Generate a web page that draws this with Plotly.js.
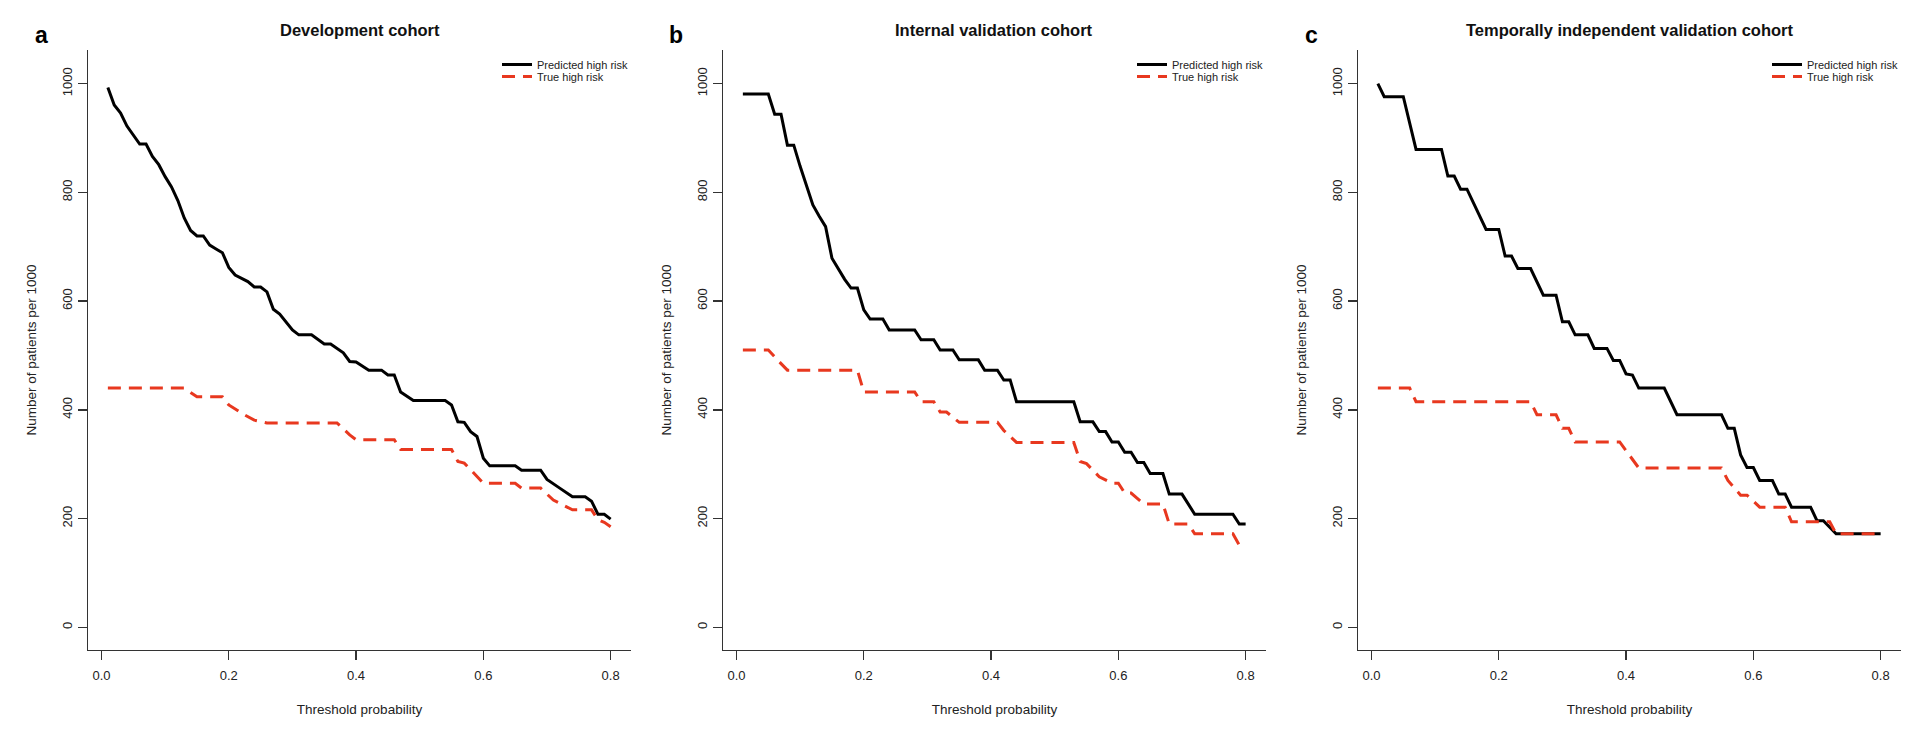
<!DOCTYPE html>
<html>
<head>
<meta charset="utf-8">
<script src="https://cdn.plot.ly/plotly-3.0.1.min.js"></script>
<style>
  body { margin: 0; background: #fff; }
  #chart { width: 1922px; height: 732px; }
</style>
</head>
<body>
<div id="chart"></div>
<script>
// Clinical impact curves (number per 1000)

// a: development cohort
const devPredX = [0.01, 0.02, 0.03, 0.04, 0.06, 0.07, 0.08, 0.09, 0.10, 0.11, 0.12, 0.13, 0.14, 0.15, 0.16, 0.17, 0.18, 0.19, 0.20, 0.21, 0.23, 0.24, 0.25, 0.26, 0.27, 0.28, 0.30, 0.31, 0.33, 0.35, 0.36, 0.38, 0.39, 0.40, 0.42, 0.44, 0.45, 0.46, 0.47, 0.49, 0.54, 0.55, 0.56, 0.57, 0.58, 0.59, 0.60, 0.61, 0.65, 0.66, 0.69, 0.70, 0.72, 0.74, 0.76, 0.77, 0.78, 0.79, 0.80];
const devPredY = [993, 961, 946, 922, 889, 889, 866, 851, 829, 810, 785, 753, 730, 720, 720, 703, 696, 689, 662, 648, 636, 626, 626, 617, 585, 576, 547, 538, 538, 521, 521, 505, 489, 488, 473, 473, 464, 464, 433, 417, 417, 409, 378, 377, 360, 351, 311, 297, 297, 289, 289, 272, 256, 240, 240, 232, 208, 208, 199];
const devTrueX = [0.01, 0.13, 0.15, 0.19, 0.20, 0.22, 0.24, 0.26, 0.37, 0.39, 0.40, 0.46, 0.47, 0.55, 0.56, 0.57, 0.58, 0.60, 0.65, 0.66, 0.69, 0.71, 0.73, 0.74, 0.77, 0.78, 0.79, 0.80];
const devTrueY = [440, 440, 424, 424, 409, 394, 381, 376, 376, 354, 345, 345, 327, 327, 305, 302, 290, 265, 265, 256, 256, 234, 222, 216, 216, 198, 193, 185];

// b: internal validation cohort
const intPredX = [0.01, 0.05, 0.06, 0.07, 0.08, 0.09, 0.10, 0.11, 0.12, 0.13, 0.14, 0.15, 0.17, 0.18, 0.19, 0.20, 0.21, 0.23, 0.24, 0.28, 0.29, 0.31, 0.32, 0.34, 0.35, 0.38, 0.39, 0.41, 0.42, 0.43, 0.44, 0.53, 0.54, 0.56, 0.57, 0.58, 0.59, 0.60, 0.61, 0.62, 0.63, 0.64, 0.65, 0.67, 0.68, 0.70, 0.72, 0.78, 0.79, 0.80];
const intPredY = [981, 981, 944, 944, 887, 887, 848, 812, 777, 756, 737, 679, 640, 624, 624, 584, 567, 567, 547, 547, 529, 529, 510, 510, 492, 492, 473, 473, 455, 455, 415, 415, 378, 378, 360, 360, 341, 341, 322, 322, 303, 303, 283, 283, 245, 245, 208, 208, 190, 190];
const intTrueX = [0.01, 0.05, 0.07, 0.08, 0.19, 0.20, 0.28, 0.29, 0.31, 0.32, 0.33, 0.35, 0.41, 0.42, 0.44, 0.53, 0.54, 0.55, 0.56, 0.57, 0.59, 0.60, 0.61, 0.62, 0.64, 0.67, 0.68, 0.71, 0.72, 0.78, 0.79, 0.80];
const intTrueY = [510, 510, 485, 473, 473, 433, 433, 415, 415, 396, 396, 377, 377, 362, 340, 340, 305, 301, 289, 277, 265, 265, 247, 247, 227, 227, 190, 190, 172, 172, 151, 151];

// c: temporally independent validation cohort
const tempPredX = [0.01, 0.02, 0.05, 0.07, 0.11, 0.12, 0.13, 0.14, 0.15, 0.18, 0.20, 0.21, 0.22, 0.23, 0.25, 0.27, 0.29, 0.30, 0.31, 0.32, 0.34, 0.35, 0.37, 0.38, 0.39, 0.40, 0.41, 0.42, 0.46, 0.48, 0.55, 0.56, 0.57, 0.58, 0.59, 0.60, 0.61, 0.63, 0.64, 0.65, 0.66, 0.69, 0.70, 0.71, 0.73, 0.80];
const tempPredY = [1000, 976, 976, 879, 879, 830, 830, 806, 806, 732, 732, 683, 683, 660, 660, 611, 611, 562, 562, 538, 538, 513, 513, 491, 491, 466, 464, 440, 440, 391, 391, 366, 366, 317, 294, 294, 270, 270, 245, 245, 221, 221, 196, 196, 172, 172];
const tempTrueX = [0.01, 0.06, 0.07, 0.25, 0.26, 0.29, 0.30, 0.31, 0.32, 0.39, 0.42, 0.55, 0.56, 0.58, 0.59, 0.61, 0.65, 0.66, 0.72, 0.73, 0.80];
const tempTrueY = [440, 440, 415, 415, 391, 391, 366, 366, 341, 341, 293, 293, 270, 243, 243, 221, 221, 194, 194, 172, 172];

const panelTitles = ['Development cohort', 'Internal validation cohort', 'Temporally independent validation cohort'];
const panelLetters = ['a', 'b', 'c'];
const seriesNames = ['Predicted high risk', 'True high risk'];
const xTitle = 'Threshold probability';
const yTitle = 'Number of patients per 1000';
const xTicks = [0, 0.2, 0.4, 0.6, 0.8];
const yTicks = [0, 200, 400, 600, 800, 1000];

const W = 1922, H = 732;
const FONT = 'Liberation Sans, Arial, Helvetica, sans-serif';
const RED = '#E8381F';

// pixel boxes of the three panels
const panelLeft = [88, 723, 1358];
const panelWidth = 543;
const plotTop = 50, plotBottom = 650;

const panels = [
  { predX: devPredX, predY: devPredY, trueX: devTrueX, trueY: devTrueY },
  { predX: intPredX, predY: intPredY, trueX: intTrueX, trueY: intTrueY },
  { predX: tempPredX, predY: tempPredY, trueX: tempTrueX, trueY: tempTrueY }
];

const traces = [];
const layout = {
  width: W, height: H,
  margin: { l: 0, r: 0, t: 0, b: 0 },
  paper_bgcolor: '#fff',
  plot_bgcolor: '#fff',
  font: { family: FONT, color: '#222' },
  showlegend: true,
  annotations: []
};

// one small legend per entry, so the two rows sit as close as in the figure
function legendBox(left, top) {
  return {
    x: left / W, y: 1 - top / H,
    xanchor: 'left', yanchor: 'top',
    bgcolor: 'rgba(0,0,0,0)',
    font: { size: 11, color: '#222' },
    itemclick: false, itemdoubleclick: false
  };
}

function paperText(text, px, py, size, extra) {
  return Object.assign({
    text: text,
    x: px / W, y: 1 - py / H,
    xref: 'paper', yref: 'paper',
    xanchor: 'center', yanchor: 'middle',
    showarrow: false,
    font: { size: size, color: '#222' }
  }, extra || {});
}

panels.forEach((p, i) => {
  const n = i === 0 ? '' : String(i + 1);
  const left = panelLeft[i];
  const legPred = 'legend' + (i === 0 ? '' : String(2 * i + 1));
  const legTrue = 'legend' + String(2 * i + 2);

  traces.push({
    x: p.predX, y: p.predY,
    xaxis: 'x' + n, yaxis: 'y' + n,
    type: 'scatter', mode: 'lines',
    line: { color: '#000', width: 3 },
    name: seriesNames[0],
    legend: legPred,
    hoverinfo: 'skip'
  });
  traces.push({
    x: p.trueX, y: p.trueY,
    xaxis: 'x' + n, yaxis: 'y' + n,
    type: 'scatter', mode: 'lines',
    line: { color: RED, width: 3, dash: '13px,8px' },
    name: seriesNames[1],
    legend: legTrue,
    hoverinfo: 'skip'
  });

  const common = {
    showgrid: false, zeroline: false,
    showline: true, linecolor: '#333', linewidth: 1.4,
    ticks: 'outside', ticklen: 9, tickwidth: 1.3, tickcolor: '#333',
    tickfont: { size: 13, color: '#222' },
    automargin: false,
    fixedrange: true
  };

  layout['xaxis' + n] = Object.assign({}, common, {
    domain: [left / W, (left + panelWidth) / W],
    anchor: 'y' + n,
    range: [-0.0212, 0.832],
    tickvals: xTicks,
    tickformat: '.1f',
    ticklabelstandoff: 4,
    title: { text: xTitle, font: { size: 13.5, color: '#222' }, standoff: 22 }
  });
  layout['yaxis' + n] = Object.assign({}, common, {
    domain: [1 - plotBottom / H, 1 - plotTop / H],
    anchor: 'x' + n,
    range: [-41.8, 1062],
    tickvals: yTicks,
    tickangle: -90,
    ticklabelstandoff: 0
  });

  const legLeft = left + panelWidth - 134;
  layout[legPred] = legendBox(legLeft, 50);
  layout[legTrue] = legendBox(legLeft, 62);

  layout.annotations.push(paperText(yTitle, left - 57.4, (plotTop + plotBottom) / 2, 13.5, { textangle: -90 }));
  layout.annotations.push(paperText('<b>' + panelTitles[i] + '</b>', left + panelWidth / 2, 30, 16.5,
    { font: { size: 16.5, color: '#111' } }));
  layout.annotations.push(paperText('<b>' + panelLetters[i] + '</b>', left - 47, 35, 23,
    { font: { size: 23, color: '#000' } }));
});

Plotly.newPlot('chart', traces, layout, { displayModeBar: false, staticPlot: true });
</script>
</body>
</html>
